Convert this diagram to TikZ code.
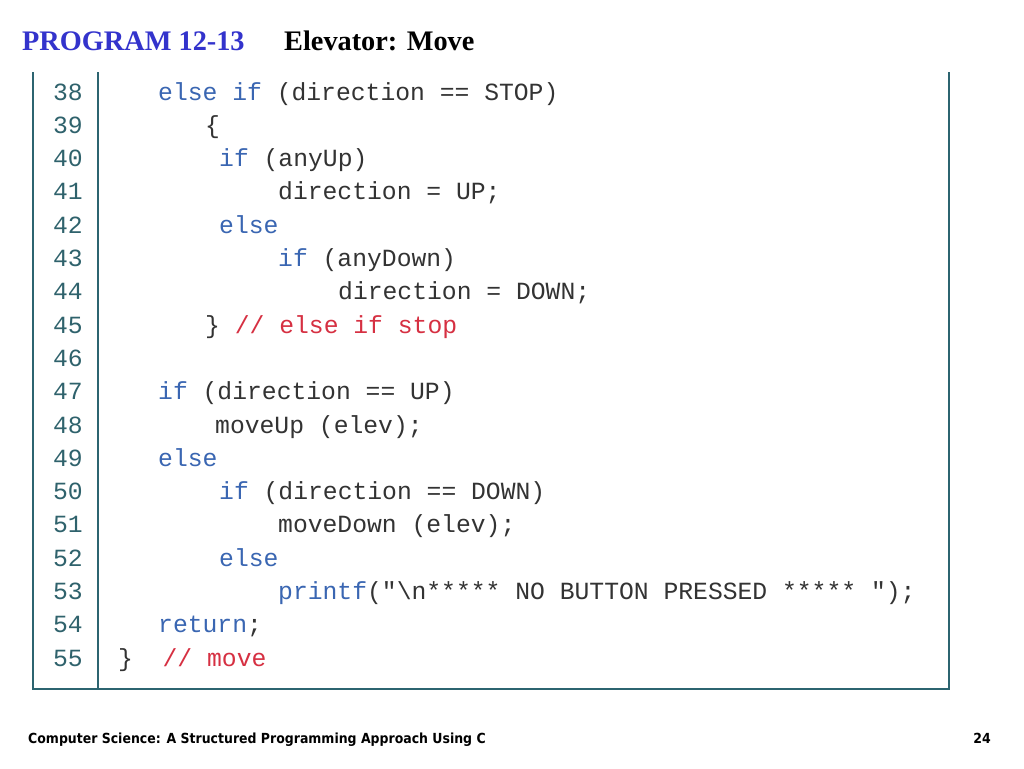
\documentclass[tikz,border=0pt]{standalone}
\usepackage{fontspec}
\setmainfont{Liberation Serif}
\newfontfamily\codefont{Liberation Mono}
\newfontfamily\footfont{DejaVu Sans Condensed}
\definecolor{titleblue}{RGB}{51,51,204}
\definecolor{boxteal}{RGB}{44,100,112}
\definecolor{numteal}{RGB}{47,98,108}
\definecolor{kwblue}{RGB}{58,102,178}
\definecolor{codegray}{RGB}{51,51,51}
\definecolor{cmtred}{RGB}{214,48,66}
\begin{document}
\begin{tikzpicture}[x=1pt,y=-1pt,
  ttl/.style={inner sep=0pt,anchor=base west,font=\fontsize{28.3}{30}\selectfont\bfseries},
  codeline/.style={inner sep=0pt,anchor=base west,font=\codefont\fontsize{24.7}{26}\selectfont,text=codegray},
  lnum/.style={inner sep=0pt,anchor=base east,font=\codefont\fontsize{24.7}{26}\selectfont,text=numteal},
  boxline/.style={draw=boxteal,line width=2pt},
  foot/.style={inner sep=0pt,font=\footfont\fontsize{13.9}{15}\selectfont\bfseries}]
\useasboundingbox[fill=white] (0,0) rectangle (1024,768);
\node[ttl,text=titleblue] (t1) at (22,50) {PROGRAM 12-13};
\node[ttl] (t2) at (284,50) {Elevator: Move};
% box
\coordinate (tl) at (33,72);
\coordinate (bl) at (33,689);
\coordinate (br) at (949,689);
\coordinate (tr) at (949,72);
\coordinate (st) at (98,72);
\coordinate (sb) at (98,689);
\draw[boxline] (tl) -- (bl) -- (br) -- (tr);
\draw[boxline] (st) -- (sb);
% line numbers
\foreach \n [count=\i from 0] in {38,...,55}{
  \node[lnum] (n\n) at (83,{100+\i*33.3}) {\n};
}
% code
\node[codeline] (c38) at (158,100) {\textcolor{kwblue}{else if} (direction == STOP)};
\node[codeline] (c39) at (205,133.3) {\{};
\node[codeline] (c40) at (219,166.6) {\textcolor{kwblue}{if} (anyUp)};
\node[codeline] (c41) at (278,199.9) {direction = UP;};
\node[codeline] (c42) at (219,233.2) {\textcolor{kwblue}{else}};
\node[codeline] (c43) at (278,266.5) {\textcolor{kwblue}{if} (anyDown)};
\node[codeline] (c44) at (338,299.8) {direction = DOWN;};
\node[codeline] (c45) at (205,333.1) {\} \textcolor{cmtred}{// else if stop}};
\node[codeline] (c47) at (158,399.7) {\textcolor{kwblue}{if} (direction == UP)};
\node[codeline] (c48) at (215,433.0) {moveUp (elev);};
\node[codeline] (c49) at (158,466.3) {\textcolor{kwblue}{else}};
\node[codeline] (c50) at (219,499.6) {\textcolor{kwblue}{if} (direction == DOWN)};
\node[codeline] (c51) at (278,532.9) {moveDown (elev);};
\node[codeline] (c52) at (219,566.2) {\textcolor{kwblue}{else}};
\node[codeline] (c53) at (278,599.5) {\textcolor{kwblue}{printf}("\textbackslash n***** NO BUTTON PRESSED ***** ");};
\node[codeline] (c54) at (158,632.8) {\textcolor{kwblue}{return};};
\node[codeline] (c55) at (118,666.1) {\}\ \ \textcolor{cmtred}{// move}};
% footer
\node[foot,anchor=base west] (f1) at (28,743) {Computer Science: A Structured Programming Approach Using C};
\node[foot,anchor=base east] (f2) at (991,743) {24};
\end{tikzpicture}
\end{document}
